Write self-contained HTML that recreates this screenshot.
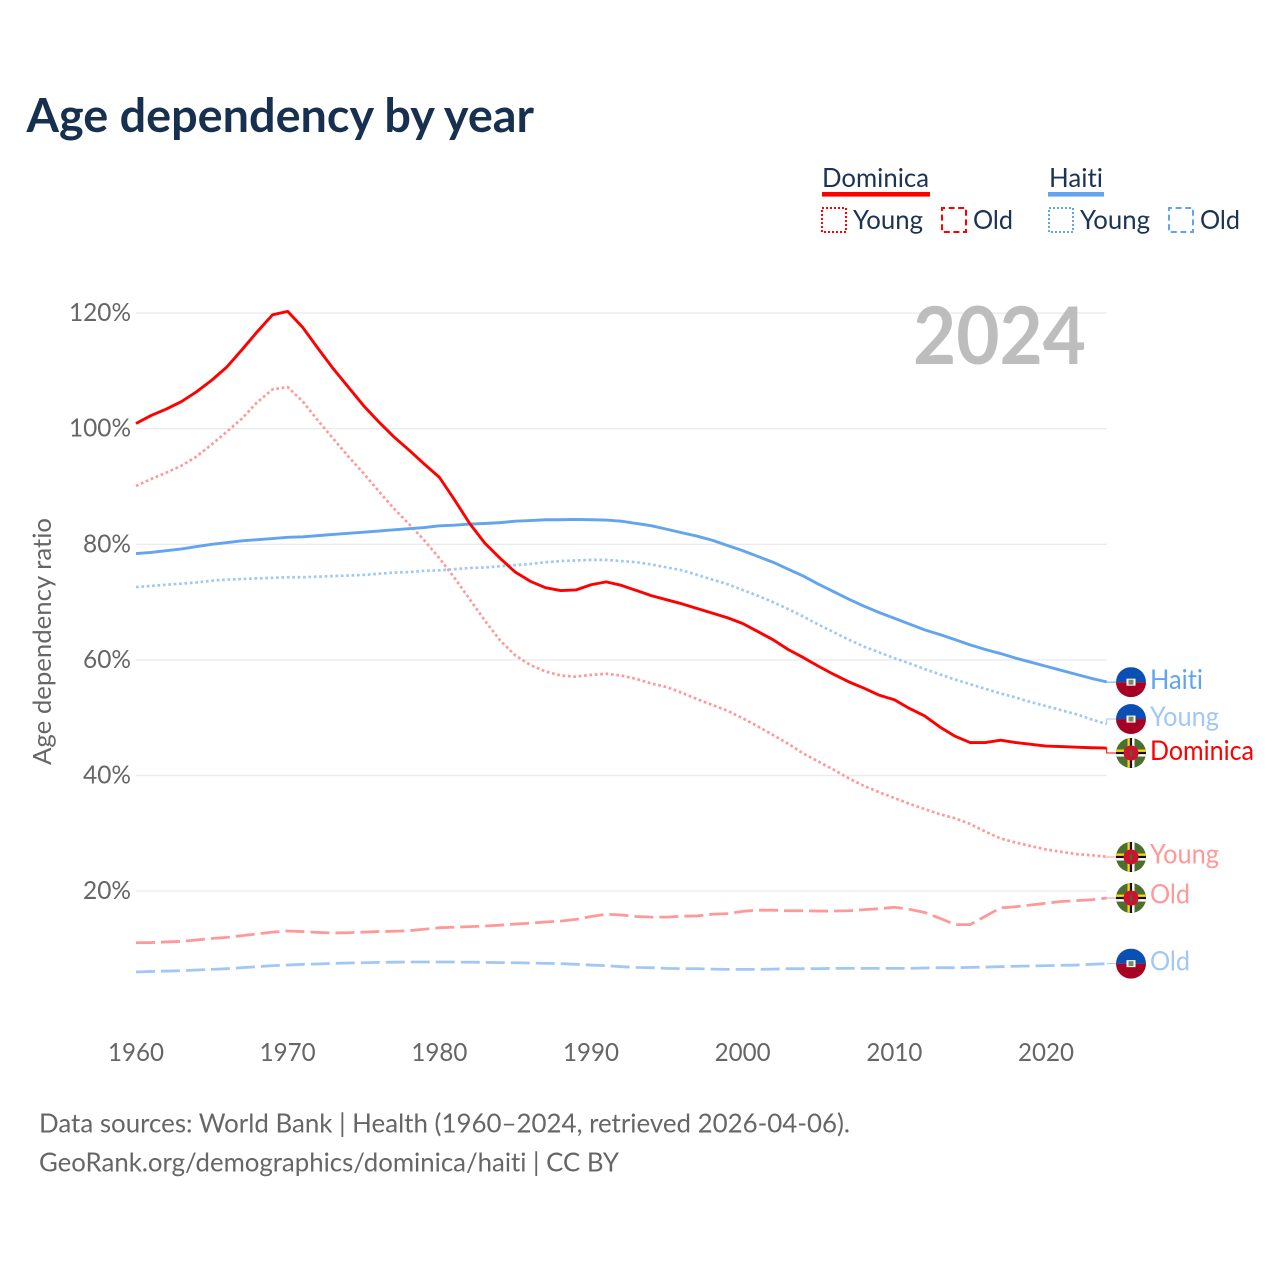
<!DOCTYPE html>
<html lang="en">
<head>
<meta charset="utf-8">
<title>Age dependency by year</title>
<style>
html,body{margin:0;padding:0;background:#fff;width:1280px;height:1280px;overflow:hidden}
svg{display:block}
text{font-family:"Lato","Carlito","Liberation Sans",sans-serif;font-variant-ligatures:none}
.t-legend{font-size:26.5px;fill:#1b3354}
.t-axis{font-size:25px;fill:#666}
.t-src{font-size:26px;fill:#666}
</style>
</head>
<body>
<svg id="chart" width="1280" height="1280" viewBox="0 0 1280 1280" xmlns="http://www.w3.org/2000/svg">
  <defs>
    <clipPath id="flag-clip"><circle cx="0" cy="0" r="15"/></clipPath>
    <g id="flag-haiti">
      <g clip-path="url(#flag-clip)">
        <rect x="-15" y="-15" width="30" height="15" fill="#0a50b4"/>
        <rect x="-15" y="0" width="30" height="15" fill="#a60024"/>
        <rect x="-4.5" y="-3.5" width="9" height="7" fill="#fff"/>
        <rect x="-2.5" y="-2.5" width="5" height="5" fill="#7a8a5a"/>
      </g>
    </g>
    <g id="flag-dominica">
      <g clip-path="url(#flag-clip)">
        <rect x="-15" y="-15" width="30" height="30" fill="#4b6f2f"/>
        <rect x="-3.5" y="-15" width="2.4" height="30" fill="#fcd116"/>
        <rect x="-1.1" y="-15" width="2.2" height="30" fill="#111"/>
        <rect x="1.1" y="-15" width="2.4" height="30" fill="#fff"/>
        <rect x="-15" y="-3.5" width="30" height="2.4" fill="#fcd116"/>
        <rect x="-15" y="-1.1" width="30" height="2.2" fill="#111"/>
        <rect x="-15" y="1.1" width="30" height="2.4" fill="#fff"/>
        <circle cx="0" cy="0" r="7.5" fill="#cf1230"/>
        <rect x="-1" y="-3" width="2" height="6" fill="#3f6b35"/>
      </g>
    </g>
  </defs>

  <text x="26.5" y="132" font-size="47" font-weight="700" fill="#17304f" textLength="507.5" lengthAdjust="spacingAndGlyphs">Age dependency by year</text>

  <g>
    <g>
      <text class="t-legend" x="822" y="187" textLength="107" lengthAdjust="spacingAndGlyphs">Dominica</text>
      <rect x="822" y="192" width="108" height="4.6" fill="#ff0000"/>
      <rect x="822" y="208" width="24" height="24" fill="none" stroke="#ff0000" stroke-width="2" stroke-dasharray="2 2"/>
      <text class="t-legend" x="853" y="229" textLength="70" lengthAdjust="spacingAndGlyphs">Young</text>
      <rect x="942" y="208" width="24" height="24" fill="none" stroke="#ff0000" stroke-width="2" stroke-dasharray="6 3.6" stroke-dashoffset="3"/>
      <text class="t-legend" x="973" y="229" textLength="40" lengthAdjust="spacingAndGlyphs">Old</text>
    </g>
    <g>
      <text class="t-legend" x="1049" y="187" textLength="54" lengthAdjust="spacingAndGlyphs">Haiti</text>
      <rect x="1048" y="192" width="56" height="4.6" fill="#62a5ee"/>
      <rect x="1049" y="208" width="24" height="24" fill="none" stroke="#62a5ee" stroke-width="2" stroke-dasharray="2 2"/>
      <text class="t-legend" x="1080" y="229" textLength="70" lengthAdjust="spacingAndGlyphs">Young</text>
      <rect x="1169" y="208" width="24" height="24" fill="none" stroke="#62a5ee" stroke-width="2" stroke-dasharray="6 3.6" stroke-dashoffset="3"/>
      <text class="t-legend" x="1200" y="229" textLength="40" lengthAdjust="spacingAndGlyphs">Old</text>
    </g>
  </g>

  <g id="grid"></g>
  <text x="913" y="364" font-size="80" font-weight="700" fill="#bdbdbd" textLength="173" lengthAdjust="spacingAndGlyphs">2024</text>
  <g id="series"></g>
  <g id="yticks"></g>
  <g id="xticks"></g>
  <g id="endlabels"></g>

  <text class="t-axis" transform="translate(51,765) rotate(-90)" x="0" y="0" textLength="247" lengthAdjust="spacingAndGlyphs">Age dependency ratio</text>

  <text class="t-src" x="39" y="1132.5" textLength="811" lengthAdjust="spacingAndGlyphs">Data sources: World Bank | Health (1960–2024, retrieved 2026-04-06).</text>
  <text class="t-src" x="39" y="1171.5" textLength="580" lengthAdjust="spacingAndGlyphs">GeoRank.org/demographics/dominica/haiti | CC BY</text>
</svg>

<script>
const startYear = 1960;
const xTickYears = [1960, 1970, 1980, 1990, 2000, 2010, 2020];
const yTickValues = [20, 40, 60, 80, 100, 120];

const dominicaTotal = [100.9,102.3,103.4,104.7,106.4,108.4,110.7,113.7,116.8,119.7,120.3,117.5,113.9,110.4,107.2,104.0,101.2,98.6,96.3,93.9,91.6,87.7,83.6,80.2,77.6,75.2,73.6,72.5,72.0,72.1,73.0,73.5,72.9,72.0,71.1,70.4,69.7,68.9,68.1,67.3,66.3,64.9,63.5,61.8,60.4,58.9,57.5,56.2,55.1,53.9,53.1,51.6,50.3,48.4,46.8,45.7,45.7,46.1,45.7,45.4,45.1,45.0,44.9,44.8,44.75];
const dominicaYoung = [90.1,91.3,92.4,93.6,95.2,97.3,99.5,101.8,104.6,106.8,107.2,104.7,101.4,98.3,95.2,92.3,89.2,86.2,83.5,80.7,77.6,74.2,70.5,66.8,63.4,60.8,59.1,58.0,57.3,57.1,57.4,57.6,57.3,56.7,55.9,55.3,54.3,53.2,52.2,51.2,49.9,48.5,47.0,45.5,43.8,42.4,41.0,39.5,38.2,37.1,36.1,35.1,34.2,33.3,32.6,31.6,30.3,29.1,28.4,27.8,27.2,26.8,26.4,26.2,25.95];
const dominicaOld = [11.07,11.1,11.2,11.3,11.55,11.8,12.0,12.3,12.6,12.9,13.1,13.0,12.85,12.75,12.8,12.9,13.0,13.05,13.15,13.4,13.67,13.75,13.85,13.96,14.1,14.3,14.45,14.65,14.8,15.1,15.6,16.0,15.87,15.6,15.5,15.5,15.65,15.7,16.0,16.1,16.5,16.7,16.7,16.6,16.6,16.55,16.55,16.6,16.8,16.95,17.2,16.85,16.3,15.3,14.2,14.2,15.65,17.1,17.3,17.6,17.9,18.2,18.35,18.5,18.8];

const haitiTotal = [78.4,78.6,78.9,79.2,79.6,80.0,80.3,80.6,80.8,81.0,81.2,81.3,81.5,81.7,81.9,82.1,82.3,82.5,82.7,82.9,83.2,83.3,83.5,83.6,83.75,84.0,84.1,84.25,84.25,84.3,84.25,84.2,84.0,83.6,83.2,82.6,82.0,81.4,80.7,79.8,78.9,77.9,76.9,75.7,74.5,73.1,71.8,70.5,69.3,68.2,67.2,66.2,65.2,64.4,63.5,62.6,61.8,61.1,60.3,59.6,58.9,58.2,57.5,56.8,56.2];
const haitiYoung = [72.6,72.8,73.0,73.2,73.4,73.7,73.9,74.0,74.1,74.2,74.3,74.3,74.4,74.5,74.6,74.7,74.9,75.1,75.2,75.4,75.5,75.7,75.9,76.0,76.2,76.4,76.6,76.9,77.1,77.2,77.3,77.3,77.1,76.9,76.5,76.0,75.5,74.7,73.9,73.1,72.1,71.1,70.0,68.8,67.5,66.1,64.8,63.5,62.3,61.3,60.3,59.4,58.4,57.5,56.6,55.8,55.0,54.2,53.5,52.7,52.0,51.3,50.6,49.7,48.9];
const haitiOld = [6.0,6.1,6.17,6.23,6.35,6.46,6.58,6.75,6.92,7.1,7.2,7.33,7.39,7.5,7.56,7.6,7.67,7.7,7.73,7.73,7.73,7.73,7.7,7.67,7.63,7.6,7.56,7.5,7.45,7.33,7.2,7.1,6.92,6.8,6.75,6.63,6.58,6.58,6.5,6.46,6.46,6.46,6.5,6.58,6.58,6.58,6.63,6.63,6.63,6.63,6.63,6.63,6.7,6.75,6.75,6.8,6.86,6.92,7.0,7.05,7.1,7.16,7.2,7.33,7.45];

const NS = 'http://www.w3.org/2000/svg';
const plotLeft = 136, plotRight = 1106.7;
const xScale = function (year) { return 136 + (year - 1960) * 15.167; };
const yScale = function (value) { return 1006.7 - value * 5.78; };

function svgEl(tag) { return document.createElementNS(NS, tag); }

const gridG = document.getElementById('grid');
const yG = document.getElementById('yticks');
yTickValues.forEach(function (v) {
  const line = svgEl('line');
  
  
  line.setAttribute('x1', plotLeft);
  line.setAttribute('x2', plotRight);
  line.setAttribute('y1', yScale(v));
  line.setAttribute('y2', yScale(v));
  line.setAttribute('stroke', '#ebebeb');
  line.setAttribute('stroke-width', '1.4');
  gridG.appendChild(line);

  const t = svgEl('text');
  
  
  const label = v + '%';
  const w = label.length === 4 ? 62 : 48;
  t.setAttribute('class', 't-axis');
  t.setAttribute('x', 131 - w);
  t.setAttribute('y', yScale(v) + 8);
  t.setAttribute('textLength', w);
  t.setAttribute('lengthAdjust', 'spacingAndGlyphs');
  t.textContent = label;
  yG.appendChild(t);
});

const xG = document.getElementById('xticks');
xTickYears.forEach(function (yr) {
  const t = svgEl('text');
  
  
  t.setAttribute('class', 't-axis');
  t.setAttribute('x', xScale(yr) - 28);
  t.setAttribute('y', 1061);
  t.setAttribute('textLength', 56);
  t.setAttribute('lengthAdjust', 'spacingAndGlyphs');
  t.textContent = String(yr);
  xG.appendChild(t);
});

function linePath(values) {
  return values.map(function (v, i) {
    return (i ? 'L' : 'M') + xScale(startYear + i).toFixed(2) + ' ' + yScale(v).toFixed(2);
  }).join(' ');
}

function drawSeries(values, color, dash, width) {
  const p = svgEl('path');
  
  
  p.setAttribute('d', linePath(values));
  p.setAttribute('fill', 'none');
  p.setAttribute('stroke', color);
  p.setAttribute('stroke-width', width);
  p.setAttribute('stroke-linejoin', 'round');
  if (dash) { p.setAttribute('stroke-dasharray', dash); }
  document.getElementById('series').appendChild(p);
}

const DOM = '#ff0000', DOM_L = '#ff9999', HAI = '#62a5ee', HAI_L = '#a1c8f4';
const DOTTED = '2.7 2.7', DASHED = '19 6';

drawSeries(haitiOld, HAI_L, DASHED, 2.8);
drawSeries(dominicaOld, DOM_L, DASHED, 2.8);
drawSeries(dominicaYoung, DOM_L, DOTTED, 2.7);
drawSeries(haitiYoung, HAI_L, DOTTED, 2.7);
drawSeries(haitiTotal, HAI, null, 2.9);
drawSeries(dominicaTotal, DOM, null, 2.9);

function endLabel(values, text, color, flag, nudge, textW, baseOffset) {
  const endY = yScale(values[values.length - 1]);
  const flagY = endY + nudge;
  const g = document.getElementById('endlabels');

  const leader = svgEl('polyline');
  
  
  leader.setAttribute('points', plotRight + ',' + endY + ' ' + plotRight + ',' + flagY + ' 1117,' + flagY);
  leader.setAttribute('fill', 'none');
  leader.setAttribute('stroke', color);
  leader.setAttribute('stroke-width', '1');
  g.appendChild(leader);

  const use = svgEl('use');
  
  
  use.setAttribute('href', '#' + flag);
  use.setAttribute('transform', 'translate(1131,' + flagY + ')');
  g.appendChild(use);

  const t = svgEl('text');
  
  
  t.setAttribute('x', 1150);
  t.setAttribute('y', flagY + baseOffset);
  t.setAttribute('font-size', '27');
  t.setAttribute('fill', color);
  t.setAttribute('textLength', textW);
  t.setAttribute('lengthAdjust', 'spacingAndGlyphs');
  t.textContent = text;
  g.appendChild(t);
}

endLabel(haitiTotal, 'Haiti', HAI, 'flag-haiti', 0.3, 53, 7);
endLabel(haitiYoung, 'Young', HAI_L, 'flag-haiti', -5, 69, 7);
endLabel(dominicaTotal, 'Dominica', DOM, 'flag-dominica', 5, 104, 7);
endLabel(dominicaYoung, 'Young', DOM_L, 'flag-dominica', 0.3, 69, 6.5);
endLabel(dominicaOld, 'Old', DOM_L, 'flag-dominica', 0, 40, 5.5);
endLabel(haitiOld, 'Old', HAI_L, 'flag-haiti', 0, 40, 7);
</script>
</body>
</html>
